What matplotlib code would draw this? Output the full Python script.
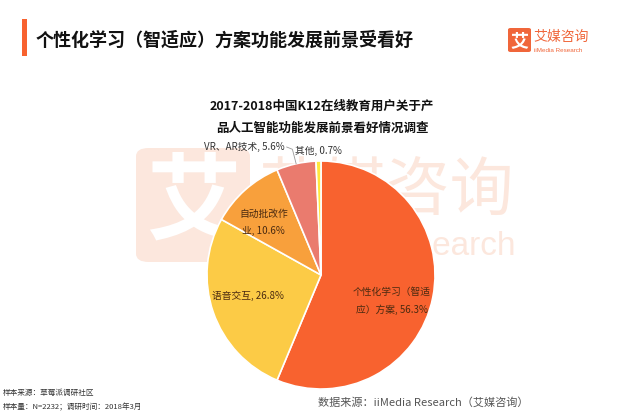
import numpy as np
import matplotlib
matplotlib.use("Agg")
import matplotlib.pyplot as plt
from matplotlib.patches import FancyBboxPatch, Rectangle

plt.rcParams['font.family'] = ['Noto Sans CJK SC', 'DejaVu Sans']

TITLE = "个性化学习（智适应）方案功能发展前景受看好"
SUBTITLE = "2017-2018中国K12在线教育用户关于产\n品人工智能功能发展前景看好情况调查"
labels = ["个性化学习（智适\n应）方案", "语音交互", "自动批改作\n业", "VR、AR技术", "其他"]
values = [56.3, 26.8, 10.6, 5.6, 0.7]
colors = ["#F8622F", "#FCCB46", "#F8A03C", "#EA7B6E", "#FFE83C"]
NOTE_1 = "样本来源：草莓派调研社区"
NOTE_2 = "样本量：N=2232；调研时间：2018年3月"
SOURCE = "数据来源：iiMedia Research（艾媒咨询）"

W, H = 640, 414
fig = plt.figure(figsize=(W / 100, H / 100), dpi=100)


def fx(px):
    return px / W


def fy(py):
    return 1 - py / H


# watermark (behind the pie)
wm = "#FCE7DD"
fig.patches.append(FancyBboxPatch((fx(136), fy(263)), fx(114), 114 / H,
                                  boxstyle="round,pad=0,rounding_size=0.02",
                                  transform=fig.transFigure, fc=wm, ec="none",
                                  zorder=-2))
fig.text(fx(193), fy(204), "艾", fontsize=68, color="white", fontweight="bold",
         ha="center", va="center", zorder=-1)
fig.text(fx(258), fy(193), "艾媒咨询", fontsize=46, color=wm,
         ha="left", va="center", zorder=-1)
fig.text(fx(258), fy(247), "iiMedia Research", fontsize=24, color=wm,
         ha="left", va="center", zorder=-1, family="Liberation Sans")

# header
fig.patches.append(Rectangle((fx(22), fy(57)), fx(5), 37 / H,
                             transform=fig.transFigure, fc="#F8622F", ec="none"))
fig.text(fx(36), fy(40), TITLE, fontsize=13, fontweight="bold", color="#111111",
         ha="left", va="center")

# logo
fig.patches.append(FancyBboxPatch((fx(508), fy(53)), fx(23), 24 / H,
                                  boxstyle="round,pad=0,rounding_size=0.004",
                                  transform=fig.transFigure, fc="#F0663A", ec="none"))
fig.text(fx(519.5), fy(41), "艾", fontsize=13, color="white", fontweight="bold",
         ha="center", va="center")
fig.text(fx(533), fy(37), "艾媒咨询", fontsize=10, color="#F0663A",
         ha="left", va="center")
fig.text(fx(534), fy(50), "iiMedia Research", fontsize=4.5, color="#F0663A",
         ha="left", va="center", family="Liberation Sans")

fig.text(fx(322), fy(117), SUBTITLE, fontsize=9, fontweight="bold", color="#111111",
         ha="center", va="center", linespacing=1.9)

# pie
cx, cy, r = 321, 276, 114
ax = fig.add_axes([fx(cx - r), fy(cy + r), 2 * r / W, 2 * r / H])
ax.set_zorder(5)
ax.patch.set_alpha(0)
wedges, _ = ax.pie(values, colors=colors, startangle=90, counterclock=False,
                   radius=1, wedgeprops=dict(edgecolor="white", linewidth=1.2))
ax.set_xlim(-1, 1)
ax.set_ylim(-1, 1)
ax.set_aspect("equal")
ax.axis("off")

mids = []
start = 90.0
for v in values:
    span = v / sum(values) * 360
    mids.append(start - span / 2)
    start -= span
mids = np.radians(mids)

# inside labels
in_r = [0.66, 0.66, 0.69]
in_shift = np.radians([-8, -4, 5])
for i in range(3):
    a = mids[i] + in_shift[i]
    ax.text(in_r[i] * np.cos(a), in_r[i] * np.sin(a), f"{labels[i]}, {values[i]}%",
            fontsize=7, color="#4A2A10", ha="center", va="center", linespacing=1.9)

# outside labels
a = mids[3]
x0, y0 = np.cos(a), np.sin(a)
x1, y1 = 1.15 * np.cos(a), 1.13 * np.sin(a)
ax.plot([x0, x1, x1 - 0.05], [y0, y1, y1 + 0.02], color="#999999", lw=0.6,
        clip_on=False)
ax.text(x1 - 0.07, y1 + 0.03, f"{labels[3]}, {values[3]}%", fontsize=7,
        color="#333333", ha="right", va="center")
a = mids[4]
ax.text(1.11 * np.cos(a), 1.1 * np.sin(a), f"{labels[4]}, {values[4]}%",
        fontsize=7, color="#333333", ha="center", va="center")

# footer
fig.text(fx(3), fy(393), NOTE_1, fontsize=5.5, color="#333333", ha="left", va="center")
fig.text(fx(3), fy(407), NOTE_2, fontsize=5.5, color="#333333", ha="left", va="center")
fig.text(fx(318), fy(402), SOURCE, fontsize=8, color="#555555", ha="left", va="center")

fig.savefig("out.png", dpi=100)
